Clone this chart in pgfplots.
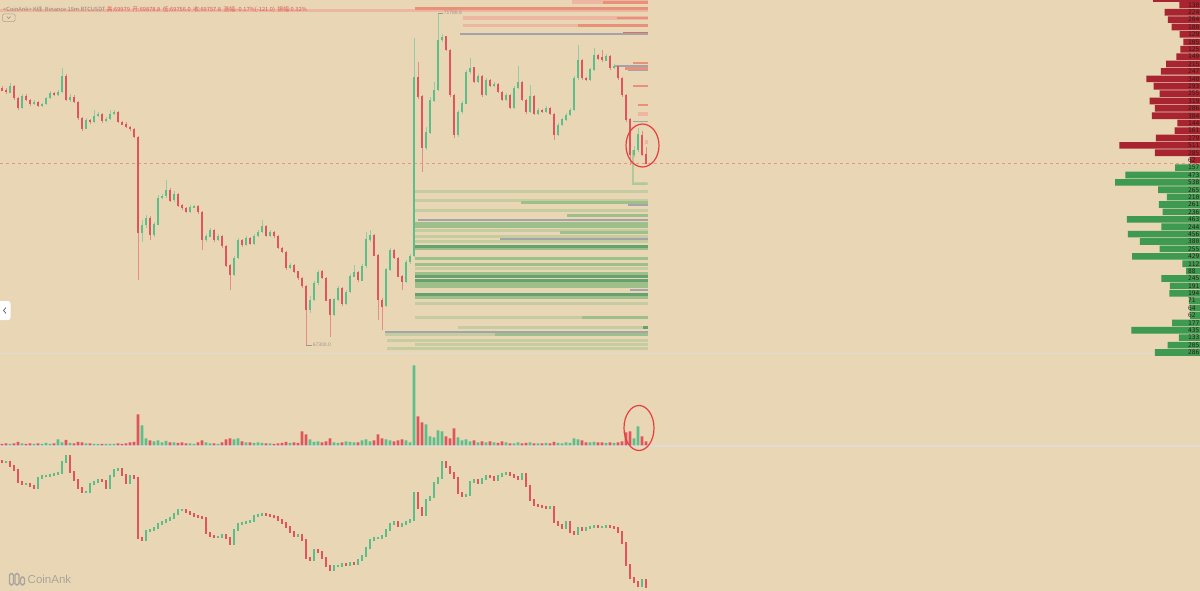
\documentclass[border=0pt]{standalone}
\usepackage{pgfplots}
\pgfplotsset{compat=1.18}
\usepackage{pgfplotstable}
\usepackage{fontspec}
\setmainfont{Liberation Sans}
\newfontfamily\cjk{Noto Sans CJK SC}
\newfontfamily\mono{DejaVu Sans Mono}

\definecolor{bg}{RGB}{233,214,181}
\definecolor{up}{RGB}{92,190,137}
\definecolor{dn}{RGB}{224,84,92}
\definecolor{upw}{RGB}{145,205,165}
\definecolor{dnw}{RGB}{230,140,135}
\definecolor{askc}{RGB}{168,36,48}
\definecolor{bidc}{RGB}{62,154,80}
\definecolor{labc}{RGB}{45,30,28}
\definecolor{hrL}{RGB}{237,182,160}
\definecolor{hrM}{RGB}{232,145,122}
\definecolor{hrD}{RGB}{222,110,95}
\definecolor{hgL}{RGB}{196,204,160}
\definecolor{hgM}{RGB}{158,190,138}
\definecolor{hgD}{RGB}{102,162,112}
\definecolor{hgray}{RGB}{162,164,170}
\definecolor{sep}{RGB}{224,220,212}
\definecolor{dashc}{RGB}{230,150,130}
\definecolor{hdgray}{RGB}{150,135,120}
\definecolor{hdred}{RGB}{214,92,86}
\definecolor{mm}{RGB}{160,150,140}
\definecolor{logo}{RGB}{168,164,156}
\definecolor{ring}{RGB}{232,62,62}

\pgfplotstableread{
x o h l c v
2 70776 70800 70730 70749 1.5
6 70749 70770 70700 70722 2
10 70722 70844 70710 70803 1.5
14 70803 70820 70620 70641 2
18 70641 70660 70479 70506 3.5
22 70506 70690 70490 70668 2
26 70668 70690 70600 70614 1.5
30 70614 70630 70540 70560 2
34 70560 70610 70545 70587 1.5
38 70587 70600 70515 70533 2
42 70533 70580 70520 70560 1.5
46 70560 70660 70550 70641 2.5
50 70641 70730 70630 70709 1.5
54 70709 70720 70665 70682 2
58 70682 70745 70670 70722 6
62 70722 71047 70710 70938 3
66 70938 70960 70600 70614 5.5
70 70614 70700 70590 70655 2.5
74 70655 70680 70570 70587 2
78 70587 70600 70345 70371 3.5
82 70371 70390 70195 70235 3
86 70235 70370 70220 70344 2
90 70344 70360 70295 70317 2
94 70317 70479 70300 70398 1.5
98 70398 70450 70380 70425 1.5
102 70425 70440 70310 70330 1.5
106 70330 70380 70315 70357 1.5
110 70357 70479 70345 70425 1.5
114 70425 70475 70410 70452 1.5
118 70452 70465 70300 70317 2
122 70317 70335 70270 70289 1.5
126 70289 70310 70230 70249 2
130 70249 70265 70200 70222 3
134 70222 70240 70095 70114 3.5
138 70114 70130 68180 68829 31
142 68829 68990 68700 68924 20
146 68924 69060 68890 69019 7
150 69019 69040 68720 68789 5
154 68789 68960 68760 68937 4
158 68937 69330 68920 69289 5
162 69289 69343 69270 69316 3
166 69316 69532 69290 69397 4.5
170 69397 69420 69240 69262 3
174 69262 69380 69240 69343 3
178 69343 69360 69170 69194 2.5
182 69194 69210 69130 69154 3
186 69154 69170 69080 69100 2
190 69100 69190 69085 69167 2
194 69167 69200 69150 69180 1.5
198 69180 69195 69080 69100 3
202 69100 69115 68586 68721 5
206 68721 68800 68700 68775 3
210 68775 68880 68760 68856 2
214 68856 68870 68700 68721 2
218 68721 68800 68705 68775 1.5
222 68775 68790 68620 68640 3
226 68640 68655 68360 68383 6
230 68383 68400 68045 68248 7
234 68248 68500 68230 68478 6
238 68478 68750 68460 68721 7
242 68721 68740 68630 68654 4
246 68654 68770 68640 68748 3
250 68748 68765 68650 68667 3
254 68667 68800 68650 68775 2.5
258 68775 68850 68760 68829 3
262 68829 68992 68810 68910 2.5
266 68910 68925 68760 68775 2
270 68775 68850 68760 68829 2
274 68829 68845 68755 68775 1.5
278 68775 68790 68595 68613 2
282 68613 68630 68540 68559 2.5
286 68559 68575 68320 68343 3.5
290 68343 68410 68325 68383 2.5
294 68383 68400 68270 68289 3
298 68289 68305 68185 68207 2.5
302 68207 68220 68075 68099 14
306 68099 68115 67300 67775 11
310 67775 67960 67740 67910 6
314 67910 68170 67890 68140 3.5
318 68140 68320 68120 68289 4
322 68289 68310 68190 68207 3
326 68207 68225 67890 67910 4
330 67910 67925 67410 67707 7
334 67707 67940 67690 67910 3
338 67910 68100 67890 68072 2.5
342 68072 68090 67830 67856 3
346 67856 68045 67840 68018 4
350 68018 68260 68000 68234 3.5
354 68234 68383 68215 68289 3
358 68289 68305 68160 68180 3
362 68180 68395 68165 68370 5
366 68370 68829 68350 68721 6
370 68721 68856 68700 68789 4
374 68789 68805 68500 68518 5
378 68518 68535 67640 67910 11
382 67910 67930 67504 67829 7
386 67829 68340 67810 68316 6
390 68316 68620 68300 68586 5
394 68586 68600 68460 68478 4
398 68478 68495 68215 68234 5
402 68234 68250 68045 68153 6
406 68153 68450 68140 68424 5
410 68424 68530 68400 68505 3
414 68505 71452 68490 70925 80
418 70925 71128 70630 70655 29
422 70655 70680 69641 69965 23
426 69965 70250 69940 70181 21
430 70181 70650 70160 70614 9
434 70614 70857 70590 70749 8
438 70749 71789.8 70730 71425 15
442 71425 71500 71400 71466 14
446 71466 71480 71270 71290 9
450 71290 71310 70660 70682 7
454 70682 70700 70100 70141 17
458 70141 70480 70120 70452 8
462 70452 70600 70430 70573 5
466 70573 71020 70555 70993 6
470 70993 71182 70970 71047 4
474 71047 71065 70840 70857 5
478 70857 70960 70840 70938 3
482 70938 70955 70660 70682 4
486 70682 70910 70665 70884 3
490 70884 70900 70785 70803 4
494 70803 70855 70790 70830 3
498 70830 70845 70705 70722 2.5
502 70722 70740 70595 70614 4
506 70614 70705 70600 70682 3
510 70682 70700 70490 70506 2
514 70506 70800 70490 70776 2
518 70776 71074 70760 70857 3
522 70857 70875 70595 70614 2
526 70614 70630 70430 70452 2.5
530 70452 70817 70440 70668 3
534 70668 70685 70405 70425 2
538 70425 70500 70410 70479 2
542 70479 70495 70435 70452 2
546 70452 70530 70440 70506 2.5
550 70506 70520 70405 70425 2
554 70425 70440 70073 70141 3.5
558 70141 70300 70125 70276 2.5
562 70276 70365 70260 70344 2
566 70344 70435 70330 70411 3
570 70411 70500 70395 70479 2.5
574 70479 70940 70460 70911 7
578 70911 71358 70890 71155 6
582 71155 71175 70890 70911 5
586 70911 70930 70865 70884 3
590 70884 71045 70865 71020 3
594 71020 71317 71000 71222 3.5
598 71222 71240 71160 71182 3
602 71182 71290 71135 71155 3
606 71155 71235 71140 71209 2.5
610 71209 71225 71025 71047 3
614 71047 71100 71030 71074 2.5
618 71074 71090 70890 70911 3
622 70911 70930 70660 70682 4
626 70682 70700 70320 70344 13
630 70344 70365 69735 69870 14
634 69870 69990 69850 69938 7
638 69938 70235 69915 70141 19
642 70141 70200 69860 69878.8 9
646 69878.8 69979 69756 69757.8 4
}\candles

\pgfplotstableread{
x o c
2 130 129
6 129 129
10 129 125
14 125 121
18 121 109
22 109 107
26 107 107
30 107 105
34 105 103
38 103 113
42 113 115
46 115 115
50 115 116
54 116 117
58 117 118
62 118 129
66 129 135
70 135 119
74 119 111
78 111 103
82 103 99
86 99 99
90 99 107
94 107 109
98 109 111
102 111 110
106 110 103
110 103 115
114 115 121
118 121 122
122 122 116
126 116 108
130 108 115
134 115 113
138 113 53
142 53 51
146 51 60
150 60 61
154 61 63
158 63 67
162 67 69
166 69 71
170 71 73
174 73 77
178 77 81
182 81 81
186 81 79
190 79 77
194 77 75
198 75 74
202 74 73
206 73 58
210 58 55
214 55 54
218 54 54
222 54 56
226 56 53
230 53 47
234 47 61
238 61 67
242 67 68
246 68 69
250 69 70
254 70 75
258 75 76
262 76 77
266 77 76
270 76 75
274 75 74
278 74 71
282 71 68
286 68 64
290 64 59
294 59 55
298 55 56
302 56 51
306 51 33
310 33 31
314 31 41
318 41 39
322 39 33
326 33 25
330 25 21
334 21 25
338 25 25
342 25 27
346 27 26
350 26 28
354 28 27
358 27 31
362 31 35
366 35 43
370 43 51
374 51 53
378 53 53
382 53 55
386 55 61
390 61 67
394 67 69
398 69 65
402 65 67
406 67 69
410 69 71
414 71 98
418 98 83
422 83 76
426 76 91
430 91 94
434 94 108
438 108 113
442 113 129
446 129 124
450 124 118
454 118 113
458 113 98
462 98 95
466 95 96
470 96 109
474 109 111
478 111 108
482 108 112
486 112 115
490 115 114
494 114 111
498 111 115
502 115 117
506 117 118
510 118 116
514 116 114
518 114 112
522 112 117
526 117 105
530 105 91
534 91 86
538 86 85
542 85 84
546 84 83
550 83 84
554 84 69
558 69 66
562 66 63
566 63 69
570 69 59
574 59 57
578 57 63
582 63 61
586 61 63
590 63 64
594 64 65
598 65 64
602 64 64
606 64 65
610 65 64
614 64 63
618 63 59
622 59 48
626 48 26
630 26 13
634 13 9
638 9 5
642 5 11
646 11 4
}\oiline

\pgfplotstableread{
p v lab
71900 130 130
71800 224 224
71700 204 204
71600 180 180
71500 129 129
71400 105 105
71300 125 125
71200 149 149
71100 215 215
71000 247 247
70900 340 340
70800 293 293
70700 255 255
70600 319 319
70500 286 286
70400 304 304
70300 144 144
70200 161 161
70100 279 279
70000 511 511
69900 285 285
69800 62 62
}\asks

\pgfplotstableread{
p v lab
69700 157 157
69600 473 473
69500 538 538
69400 265 265
69300 210 210
69200 261 261
69100 236 236
69000 463 463
68900 244 244
68800 456 456
68700 380 380
68600 255 255
68500 429 429
68400 112 112
68300 88 88
68200 245 245
68100 191 191
68000 194 194
67900 71 71
67800 64 64
67700 62 62
67600 177 177
67500 435 435
67400 133 133
67300 205 205
67200 286 286
}\bids

\pgfplotstableread{
x1 x2 p
0 648 71824
572 648 71940
463 648 71723
463 648 71621
645 648 70046
638 648 70425
}\hredL
\pgfplotstableread{
x1 x2 p
415 648 71851
603 648 71930
617 648 71723
578 648 71621
633 648 71114
625 648 71040
633 648 70803
638 648 70546
}\hredM
\pgfplotstableread{
x1 x2 p
623 648 71506
}\hredD
\pgfplotstableread{
x1 x2 p
460 648 71506
628 648 71013
614 648 71074
633 648 70323
628 648 69194
418 648 68992
500 648 68735
630 648 68045
385 648 67477
}\hgrayT
\pgfplotstableread{
x1 x2 p
415 648 69377
415 648 69255
415 648 69113
415 648 68850
415 648 68769
415 648 68694
415 648 68329
415 648 67863
415 648 67667
458 648 67531
385 648 67437
387 648 67356
415 648 67308
387 648 67254
633 648 69478
}\hgreenL
\pgfplotstableread{
x1 x2 p
521 648 69221
567 648 69052
415 648 68944
415 648 68897
560 648 68816
415 648 68600
415 648 68471
415 648 68383
415 648 68268
415 648 68126
415 648 68086
415 648 67944
582 648 67667
495 648 67437
}\hgreenM
\pgfplotstableread{
x1 x2 p
415 648 68633
415 648 68174
415 648 68221
415 648 67984
643 648 67531
}\hgreenD

\pgfplotsset{
  panel/.style={scale only axis, axis lines=none, ticks=none, clip=true, anchor=south west},
  nomk/.style={draw=none, mark=none},
  hseg/.style 2 args={nomk,
    error bars/x dir=both, error bars/x explicit, error bars/error mark=none,
    error bars/error bar style={line width=#2, draw=#1}},
  vseg/.style 2 args={nomk,
    error bars/y dir=both, error bars/y explicit, error bars/error mark=none,
    error bars/error bar style={line width=#2, draw=#1}},
}

\begin{document}
\begin{tikzpicture}
\useasboundingbox (0,0) rectangle (1200pt,591pt);
\clip (0,0) rectangle (1200pt,591pt);
\fill[bg] (0,0) rectangle (1200pt,591pt);

% background frame: separators and last-price line
\begin{axis}[panel, at={(0pt,0pt)}, width=1200pt, height=591pt,
  xmin=0, xmax=1200, ymin=0, ymax=591, y dir=reverse]
\addplot[sep, line width=1.2pt] coordinates {(0,353.5) (1200,353.5)};
\addplot[sep, line width=1.2pt] coordinates {(0,446) (1200,446)};
\addplot[dashc, line width=0.7pt, dash pattern=on 3pt off 3pt] coordinates {(0,163.3) (1200,163.3)};
\end{axis}

% price panel
\begin{axis}[panel, at={(0pt,239pt)}, width=648pt, height=352pt,
  xmin=0, xmax=648, ymin=67206.5, ymax=71965.6]
\addplot[hseg={hrL}{3.5pt}] table[x expr={(\thisrow{x1}+\thisrow{x2})/2}, y=p, x error expr={(\thisrow{x2}-\thisrow{x1})/2}] {\hredL};
\addplot[hseg={hrM}{2.8pt}] table[x expr={(\thisrow{x1}+\thisrow{x2})/2}, y=p, x error expr={(\thisrow{x2}-\thisrow{x1})/2}] {\hredM};
\addplot[hseg={hrD}{3pt}] table[x expr={(\thisrow{x1}+\thisrow{x2})/2}, y=p, x error expr={(\thisrow{x2}-\thisrow{x1})/2}] {\hredD};
\addplot[hseg={hgL}{3pt}] table[x expr={(\thisrow{x1}+\thisrow{x2})/2}, y=p, x error expr={(\thisrow{x2}-\thisrow{x1})/2}] {\hgreenL};
\addplot[hseg={hgM}{3pt}] table[x expr={(\thisrow{x1}+\thisrow{x2})/2}, y=p, x error expr={(\thisrow{x2}-\thisrow{x1})/2}] {\hgreenM};
\addplot[hseg={hgD}{3pt}] table[x expr={(\thisrow{x1}+\thisrow{x2})/2}, y=p, x error expr={(\thisrow{x2}-\thisrow{x1})/2}] {\hgreenD};
\addplot[hseg={hgray}{1.6pt}] table[x expr={(\thisrow{x1}+\thisrow{x2})/2}, y=p, x error expr={(\thisrow{x2}-\thisrow{x1})/2}] {\hgrayT};
\addplot[hgL!80!up, line width=1.4pt] coordinates {(633,69938) (633,69478) (647,69478)};
% wicks
\addplot[vseg={upw}{0.8pt}, restrict expr to domain={\thisrow{c}-\thisrow{o}}{0:100000}]
  table[x=x, y expr={(\thisrow{h}+\thisrow{l})/2}, y error expr={(\thisrow{h}-\thisrow{l})/2}] {\candles};
\addplot[vseg={dnw}{0.8pt}, restrict expr to domain={\thisrow{c}-\thisrow{o}}{-100000:-0.001}]
  table[x=x, y expr={(\thisrow{h}+\thisrow{l})/2}, y error expr={(\thisrow{h}-\thisrow{l})/2}] {\candles};
% bodies
\addplot[vseg={up}{2.6pt}, restrict expr to domain={\thisrow{c}-\thisrow{o}}{0:100000}]
  table[x=x, y expr={(\thisrow{o}+\thisrow{c})/2}, y error expr={abs(\thisrow{c}-\thisrow{o})/2+6}] {\candles};
\addplot[vseg={dn}{2.6pt}, restrict expr to domain={\thisrow{c}-\thisrow{o}}{-100000:-0.001}]
  table[x=x, y expr={(\thisrow{o}+\thisrow{c})/2}, y error expr={abs(\thisrow{c}-\thisrow{o})/2+6}] {\candles};
\draw[mm, line width=0.5pt] (axis cs:438,71789.8) -- (axis cs:443,71789.8)
  node[right, inner sep=0.6pt, text=mm, font=\fontsize{5}{5}\selectfont] {71789.8};
\draw[mm, line width=0.5pt] (axis cs:306,67300) -- (axis cs:312,67300)
  node[right, inner sep=0.6pt, text=mm, font=\fontsize{5}{5}\selectfont] {67300.0};
\end{axis}

% volume panel
\begin{axis}[panel, at={(0pt,145.5pt)}, width=648pt, height=85.5pt,
  xmin=0, xmax=648, ymin=0, ymax=85.5]
\addplot[ybar, bar width=2.6pt, bar shift=0pt, fill=up, draw=none,
  restrict expr to domain={\thisrow{c}-\thisrow{o}}{0:100000}] table[x=x, y=v] {\candles};
\addplot[ybar, bar width=2.6pt, bar shift=0pt, fill=dn, draw=none,
  restrict expr to domain={\thisrow{c}-\thisrow{o}}{-100000:-0.001}] table[x=x, y=v] {\candles};
\end{axis}

% lower indicator panel
\begin{axis}[panel, at={(0pt,0pt)}, width=648pt, height=136pt,
  xmin=0, xmax=648, ymin=0, ymax=136]
\addplot[vseg={up}{2.4pt}, restrict expr to domain={\thisrow{c}-\thisrow{o}}{0:100000}]
  table[x=x, y expr={(\thisrow{o}+\thisrow{c})/2}, y error expr={abs(\thisrow{c}-\thisrow{o})/2+0.7}] {\oiline};
\addplot[vseg={dn}{2.4pt}, restrict expr to domain={\thisrow{c}-\thisrow{o}}{-100000:-0.001}]
  table[x=x, y expr={(\thisrow{o}+\thisrow{c})/2}, y error expr={abs(\thisrow{c}-\thisrow{o})/2+0.7}] {\oiline};
\end{axis}

% order book
\begin{axis}[panel, at={(1100pt,234pt)}, width=100pt, height=357pt,
  xmin=0, xmax=632.9, x dir=reverse, ymin=67139, ymax=71965.6, clip=false]
\addplot[xbar, bar width=6.6pt, bar shift=0pt, fill=askc, draw=none] coordinates {(300,71985)};
\addplot[xbar, bar width=6.6pt, bar shift=0pt, fill=askc, draw=none] table[x=v, y=p] {\asks};
\addplot[xbar, bar width=6.6pt, bar shift=0pt, fill=bidc, draw=none] table[x=v, y=p] {\bids};
\addplot[nomk, nodes near coords, point meta=explicit symbolic,
  nodes near coords style={anchor=west, inner sep=0pt, text=labc, font=\mono\fontsize{6.2}{6.2}\selectfont}]
  table[x expr=76, y=p, meta=lab] {\asks};
\addplot[nomk, nodes near coords, point meta=explicit symbolic,
  nodes near coords style={anchor=west, inner sep=0pt, text=labc, font=\mono\fontsize{6.2}{6.2}\selectfont}]
  table[x expr=76, y=p, meta=lab] {\bids};
\end{axis}

% overlay: header, rings, buttons, logo
\begin{axis}[panel, at={(0pt,0pt)}, width=1200pt, height=591pt,
  xmin=0, xmax=1200, ymin=0, ymax=591, y dir=reverse]
\node[anchor=west, inner sep=0pt] at (axis cs:3,9.6)
  {\cjk\fontsize{5.7}{6}\selectfont\color{hdgray}<CoinAnk> K线\ \ Binance 15m BTCUSDT\ \color{hdred}高:69979\ \ 开:69878.8\ \ 低:69756.0\ \ 收:69757.8\ \ 涨幅:-0.17\%(-121.0)\ \ 振幅:0.32\%};
\draw[hdgray!80, line width=0.5pt, rounded corners=1.2pt] (axis cs:2.5,14) rectangle (axis cs:15,21.5);
\draw[hdgray, line width=0.5pt] (axis cs:6.8,16.6) -- (axis cs:8.75,18.6) -- (axis cs:10.7,16.6);
\draw[ring, line width=1.2pt] (axis cs:642.5,145.5) ellipse [x radius=16.5pt, y radius=21.5pt];
\draw[ring, line width=1.2pt] (axis cs:639,428) ellipse [x radius=15pt, y radius=22.5pt];
\fill[white, rounded corners=2.5pt] (axis cs:-4,301) rectangle (axis cs:10.5,320);
\draw[black!70, line width=0.6pt] (axis cs:6,307.5) -- (axis cs:3.5,310.5) -- (axis cs:6,313.5);
\draw[logo, line width=1.3pt, rounded corners=1.6pt] (axis cs:9.5,573.5) rectangle (axis cs:13.5,585);
\draw[logo, line width=1.3pt, rounded corners=1.6pt] (axis cs:15,573.5) rectangle (axis cs:19,585);
\draw[logo, line width=1.3pt, rounded corners=1.6pt] (axis cs:20.5,577) rectangle (axis cs:24.5,585);
\node[anchor=west, inner sep=0pt, text=logo] at (axis cs:27.5,579.2) {\fontsize{11.5}{12}\selectfont CoinAnk};
\end{axis}
\end{tikzpicture}
\end{document}
